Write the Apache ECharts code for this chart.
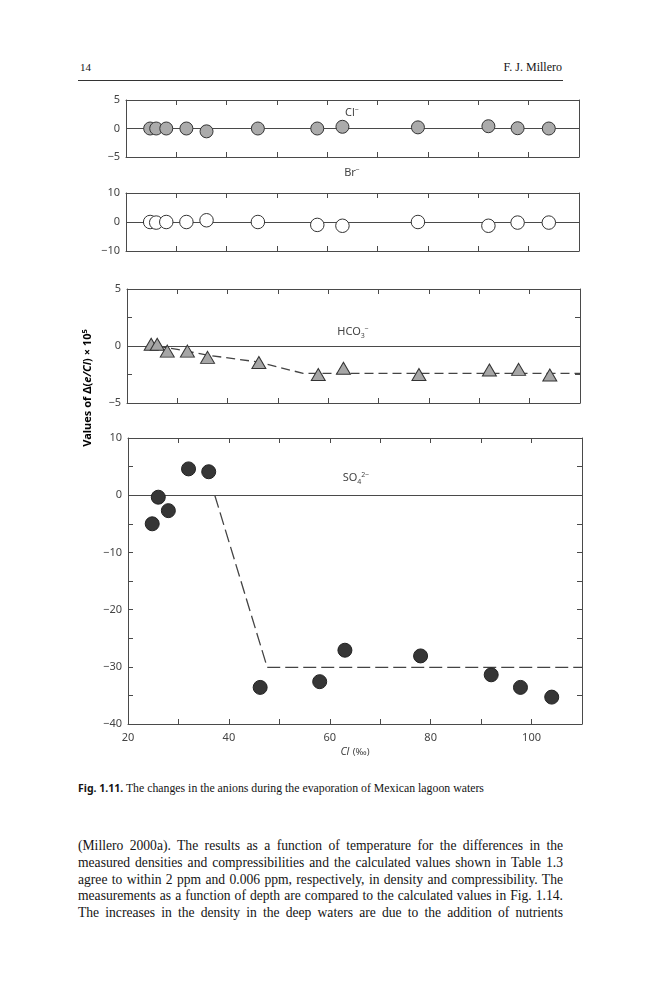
<!DOCTYPE html>
<html>
<head>
<meta charset="utf-8">
<script src="https://cdn.jsdelivr.net/npm/echarts@6/dist/echarts.min.js"></script>
<style>
body{margin:0;background:#fff;width:659px;height:1000px;position:relative;overflow:hidden;}
#grafica{position:absolute;left:0;top:0;width:659px;height:780px;}
.serif{position:absolute;font-family:"Liberation Serif","DejaVu Serif",serif;color:#141414;}
#regla{position:absolute;left:78px;top:80px;width:485px;height:1px;background:#333;}
#texto div{text-align:justify;text-align-last:justify;}
</style>
</head>
<body>

<div class="serif" style="left:80px;top:61px;font-size:11px;">14</div>
<div class="serif" style="right:97px;top:60px;font-size:12px;">F. J. Millero</div>
<div id="regla"></div>

<div id="grafica"></div>

<div class="serif" style="left:78px;top:781px;font-size:11.8px;white-space:nowrap;">
<b style="font-family:'Noto Sans',sans-serif;font-size:10.5px;">Fig. 1.11.</b> The changes in the anions during the evaporation of Mexican lagoon waters</div>

<div id="texto" class="serif" style="left:78px;top:838px;width:485px;font-size:13.6px;line-height:16.8px;">
<div>(Millero 2000a). The results as a function of temperature for the differences in the</div>
<div>measured densities and compressibilities and the calculated values shown in Table 1.3</div>
<div>agree to within 2 ppm and 0.006 ppm, respectively, in density and compressibility. The</div>
<div>measurements as a function of depth are compared to the calculated values in Fig. 1.14.</div>
<div>The increases in the density in the deep waters are due to the addition of nutrients</div>
</div>

<script>
//datos: Cl (‰) de cada muestra
var chlorinity = [24.8, 26, 28, 32, 36, 46.2, 58, 63, 78, 92, 97.8, 104];

var clValues   = [0, 0, 0, 0, -0.5, 0, 0, 0.3, 0.2, 0.4, 0.05, 0];
var brValues   = [0, -0.2, 0, 0, 0.6, 0, -1.0, -1.3, 0, -1.3, -0.2, -0.2];
var hco3Values = [0.15, 0.15, -0.45, -0.45, -1.0, -1.45, -2.5, -1.95, -2.5, -2.1, -2.05, -2.55];
var so4Values  = [-5, -0.35, -2.7, 4.6, 4.1, -33.6, -32.6, -27.1, -28.1, -31.4, -33.6, -35.3];

//lineas de tendencia (discontinuas)
var hco3FitCl     = [26, 30, 36, 46, 55, 110];
var hco3FitValues = [0, -0.3, -0.8, -1.4, -2.4, -2.4];
var so4FitCl      = [37.2, 47.6, 110];
var so4FitValues  = [0, -30.1, -30.1];

//etiquetas de los ejes
var xLabels  = [20, 40, 60, 80, 100];
var yLabels1 = [-5, 0, 5];
var yLabels2 = [-10, 0, 10];
var yLabels3 = [-5, 0, 5];
var yLabels4 = [-40, -30, -20, -10, 0, 10];

function pares(xs, ys) {
    return xs.map(function (x, i) { return [x, ys[i]]; });
}

function menos(v) {
    return String(v).replace('-', '\u2212');
}

var colorEje = '#4a4a4a';
var fuente = 'Noto Sans';

var grids = [
    {left: 126, top: 100, width: 453, height: 57},
    {left: 126, top: 193, width: 453, height: 58},
    {left: 127, top: 289, width: 453, height: 114},
    {left: 128, top: 438, width: 454, height: 286}
];

var yConf = [
    {min: -5, max: 5, interval: 5, labels: yLabels1},
    {min: -10, max: 10, interval: 10, labels: yLabels2},
    {min: -5, max: 5, interval: 2.5, labels: yLabels3},
    {min: -40, max: 10, interval: 5, labels: yLabels4}
];

var xAxes = [];
var yAxes = [];

grids.forEach(function (g, i) {
    var linea = {show: true, onZero: false, lineStyle: {color: colorEje, width: 1}};
    var tick = {show: true, inside: true, length: 5, lineStyle: {color: colorEje, width: 1}};
    //abajo
    xAxes.push({
        type: 'value', gridIndex: i, min: 20, max: 110, interval: 10, position: 'bottom',
        axisLine: linea, axisTick: tick, splitLine: {show: false},
        axisLabel: {
            show: i == 3, margin: 8, color: '#444', fontFamily: fuente, fontSize: 11,
            formatter: function (v) { return xLabels.indexOf(v) >= 0 ? String(v) : ''; }
        }
    });
    //arriba (espejo)
    xAxes.push({
        type: 'value', gridIndex: i, min: 20, max: 110, interval: 10, position: 'top',
        axisLine: linea, axisTick: tick, splitLine: {show: false}, axisLabel: {show: false}
    });
    var c = yConf[i];
    yAxes.push({
        type: 'value', gridIndex: i, min: c.min, max: c.max, interval: c.interval, position: 'left',
        axisLine: linea, axisTick: tick, splitLine: {show: false},
        axisLabel: {
            margin: 6, color: '#444', fontFamily: fuente, fontSize: 11,
            formatter: function (v) { return c.labels.indexOf(v) >= 0 ? menos(v) : ''; }
        }
    });
    yAxes.push({
        type: 'value', gridIndex: i, min: c.min, max: c.max, interval: c.interval, position: 'right',
        axisLine: linea, axisTick: tick, splitLine: {show: false}, axisLabel: {show: false}
    });
});

//linea del cero de cada panel
function lineaCero(i) {
    return {
        type: 'line', xAxisIndex: i * 2, yAxisIndex: i * 2, data: [], z: 1, silent: true,
        markLine: {
            silent: true, symbol: ['none', 'none'], label: {show: false},
            lineStyle: {type: 'solid', color: colorEje, width: 1},
            emphasis: {disabled: true},
            data: [{yAxis: 0}]
        }
    };
}

function puntos(i, valores, simbolo, tam, relleno, borde) {
    return {
        type: 'scatter', xAxisIndex: i * 2, yAxisIndex: i * 2, z: 5,
        symbol: simbolo, symbolSize: tam,
        itemStyle: {color: relleno, borderColor: borde, borderWidth: 1, opacity: 1},
        data: pares(chlorinity, valores)
    };
}

function tendencia(i, xs, ys, guion) {
    return {
        type: 'line', xAxisIndex: i * 2, yAxisIndex: i * 2, z: 2, silent: true,
        symbol: 'none', smooth: false,
        lineStyle: {color: '#444', width: 1.3, type: guion},
        data: pares(xs, ys)
    };
}

var series = [
    lineaCero(0), lineaCero(1), lineaCero(2), lineaCero(3),
    tendencia(2, hco3FitCl, hco3FitValues, [9, 5]),
    tendencia(3, so4FitCl, so4FitValues, [13, 5]),
    puntos(0, clValues, 'circle', 13, '#ababab', '#333'),
    puntos(1, brValues, 'circle', 13.5, '#ffffff', '#333'),
    puntos(2, hco3Values, 'triangle', [14, 12], '#a6a6a6', '#333'),
    puntos(3, so4Values, 'circle', 14, '#363636', '#222')
];

//textos dentro de la figura
function etiqueta(x, y, texto) {
    return {
        type: 'text', x: x, y: y, silent: true,
        style: {
            text: texto, align: 'center', verticalAlign: 'middle', fill: '#444',
            rich: {
                n: {fontFamily: fuente, fontSize: 11, lineHeight: 14, color: '#444'},
                sup: {fontFamily: fuente, fontSize: 7, lineHeight: 7, verticalAlign: 'top', color: '#444'},
                sub: {fontFamily: fuente, fontSize: 7, lineHeight: 7, verticalAlign: 'bottom', color: '#444'},
                i: {fontFamily: fuente, fontSize: 10.5, fontStyle: 'italic', lineHeight: 14, color: '#444'},
                r: {fontFamily: fuente, fontSize: 9.5, lineHeight: 14, color: '#444'}
            }
        }
    };
}

var graficos = [
    etiqueta(352, 113, '{n|Cl}{sup|\u2212}'),
    etiqueta(352, 173, '{n|Br}{sup|\u2212}'),
    etiqueta(353, 332, '{n|HCO}{sub|3}{sup|\u2212}'),
    etiqueta(356, 478, '{n|SO}{sub|4}{sup|2\u2212}'),
    etiqueta(355, 752, '{i|Cl} {r|(\u2030)}'),
    {
        type: 'text', x: 88, y: 388, rotation: Math.PI / 2, silent: true,
        style: {
            text: '{b|Values of \u0394(}{bi|e/Cl}{b|) \u00d7 10}{sup|5}',
            align: 'center', verticalAlign: 'middle',
            rich: {
                b: {fontFamily: fuente, fontWeight: 'bold', fontSize: 11, lineHeight: 14, color: '#222'},
                bi: {fontFamily: fuente, fontWeight: 'bold', fontStyle: 'italic', fontSize: 11, lineHeight: 14, color: '#222'},
                sup: {fontFamily: fuente, fontWeight: 'bold', fontSize: 7.5, lineHeight: 7, verticalAlign: 'top', color: '#222'}
            }
        }
    }
];

var grafico = echarts.init(document.getElementById('grafica'), null, {renderer: 'canvas'});
var option = {
    animation: false,
    backgroundColor: 'transparent',
    grid: grids,
    xAxis: xAxes,
    yAxis: yAxes,
    series: series,
    graphic: graficos
};
option && grafico.setOption(option);
</script>
</body>
</html>
